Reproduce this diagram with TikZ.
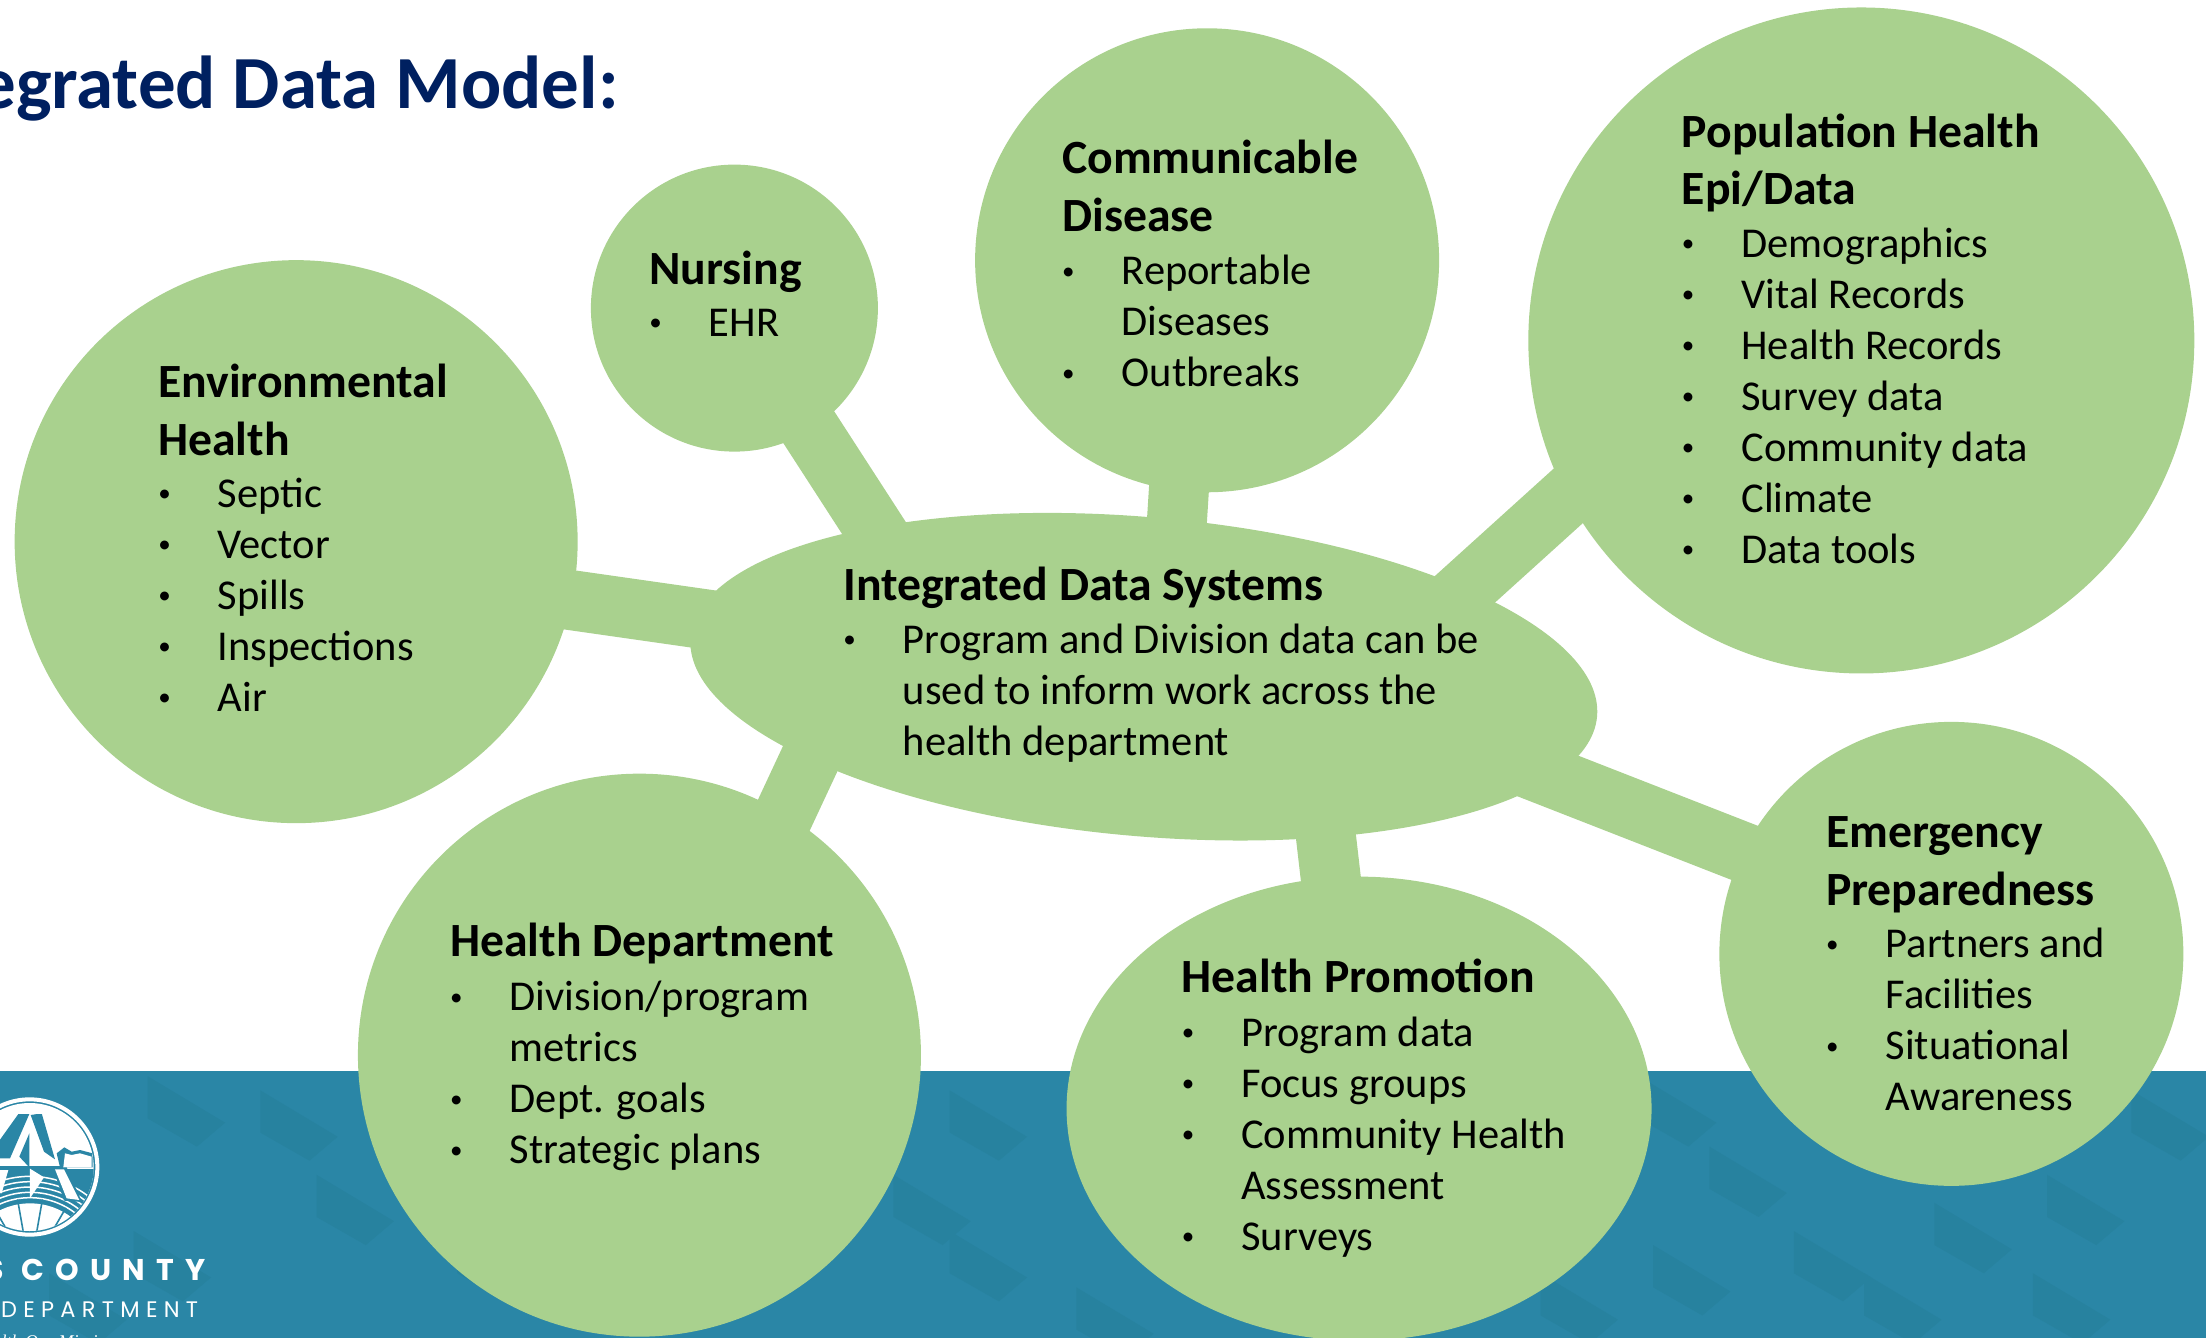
\documentclass[tikz,border=0pt]{standalone}
\usepackage{fontspec}
\setmainfont{Carlito}
\newfontfamily\logofontsp[LetterSpace=37]{Poppins}
\newfontfamily\logofontb[LetterSpace=28]{Poppins}
\newfontfamily\logoserif{Liberation Serif}
\usetikzlibrary{shapes.geometric}
\definecolor{leaf}{HTML}{A9D18E}
\definecolor{bandc}{HTML}{2A86A6}
\definecolor{bandd}{HTML}{27829F}
\definecolor{titlec}{HTML}{002060}
\newcommand{\hd}[1]{{\bfseries\fontsize{47.7}{51}\selectfont #1}}
\newcommand{\itm}[1]{\makebox[59.5pt][l]{\raisebox{5.3pt}{\fontsize{25}{25}\selectfont\textbullet}}#1}
\newcommand{\cnt}[1]{\makebox[59.5pt][l]{}#1}
\tikzset{
  bub/.style={circle,fill=leaf,draw=none,inner sep=0pt,minimum size=#1},
  ebub/.style={ellipse,fill=leaf,draw=none,inner sep=0pt},
  link/.style={draw=leaf,line width=60pt,shorten <=-14pt,shorten >=-14pt},
  txt/.style={anchor=north west,inner sep=0pt,outer sep=0pt,yshift=31.4pt,align=left,text=black,
     font=\fontsize{42.5}{51}\selectfont,execute at begin node={\rule{0pt}{38pt}}},
}
\begin{document}
\begin{tikzpicture}[x=1.40689pt,y=-1.40689pt]
\useasboundingbox (0,0) rectangle (1568,951);
\clip (0,0) rectangle (1568,951);
% band
\fill[bandc] (0,761) rectangle (1568,951);
\foreach \px/\py in {130/790,210/800,250/860,60/930,350/900,700/800,700/900,790/940,1190/790,1240/840,1300/900,1400/880,1480/860,1540/800,1120/930,1200/910,1350/930,1470/930,660/860,120/900}{
  \fill[bandd,shift={(\px,\py)}] (-25,-25)--(30,8)--(10,25)--(-25,5)--cycle;
}
% logo
\begin{scope}[x=0.33333pt,y=-0.33333pt,shift={(0pt,-1090pt)}]
  \draw[white,line width=4pt] (89,231) circle (203);
  \begin{scope}
    \clip (89,231) circle (192);
    \fill[white] (-110,30) rectangle (290,440);
    \fill[bandc] (-110,236) rectangle (290,440);
    \foreach \r in {222,238,254,270,286}{
      \draw[white,line width=1.5pt] (90,545) circle (\r);
    }
    \fill[white] (90,545) circle (205);
    \foreach \a in {20,40,60,80,100,120,140,160}{
      \draw[bandc,line width=1.6pt] (90,540) -- ++(\a:-215);
    }
    \fill[bandc] (-40,205)--(58,68)--(88,72)--(30,205)--cycle;
    \fill[bandc] (92,75)--(125,70)--(165,208)--(132,185)--cycle;
    \fill[bandc] (88,130)--(88,232)--(58,200)--cycle;
    \fill[bandc] (170,190)--(193,172)--(215,185)--(240,180)--(278,190)--(278,232)--(180,232)--cycle;
    \fill[white] (195,190)--(215,195)--(240,190)--(275,200)--(275,232)--(190,232)--cycle;
    \fill[bandc] (-110,228) rectangle (190,236);
    \fill[white] (53,64) rectangle (127,72);
    \fill[white] (90,236)--(132,262)--(90,325)--cycle;
    \fill[bandc] (158,232)--(200,232)--(246,336)--(192,332)--cycle;
    \fill[white] (165,238)--(192,238)--(238,330)--(200,325)--cycle;
    \fill[white] (-10,240)--(25,240)--(5,310)--(-30,300)--cycle;
  \end{scope}
\end{scope}
\node[anchor=base east,inner sep=0pt,text=white,font={\logofontsp\bfseries\fontsize{30}{30}\selectfont}] (county) at (146,910.5) {S COUNTY};
\node[anchor=base east,inner sep=0pt,text=white,font={\logofontb\fontsize{22.5}{23}\selectfont}] (dept) at (141,936.5) {DEPARTMENT};
\node[anchor=base west,inner sep=0pt,text=white,font={\logoserif\itshape\fontsize{18}{18}\selectfont}] (mission) at (1,957.5) {lth Our Mission};
% title
\node[anchor=base east,inner sep=0pt,text=titlec,font={\bfseries\fontsize{75}{80}\selectfont}] (title) at (440,77) {egrated Data Model:};
% shapes
\node[bub=563pt] (env) at (210.5,385) {};
\node[bub=287pt] (nur) at (522,219) {};
\node[bub=464pt] (com) at (858,185) {};
\node[bub=666pt] (pop) at (1323,242) {};
\node[bub=464pt] (eme) at (1387,678) {};
\node[ebub,minimum width=585pt,minimum height=464pt] (pro) at (966,788) {};
\node[bub=563pt] (hea) at (454.5,750) {};
\node[ebub,minimum width=910pt,minimum height=319pt,rotate=-5] (core) at (813,481) {};
% connector ends on the central shape
\coordinate (cEnv) at (500,440);
\coordinate (cNur) at (621,375);
\coordinate (cCom) at (836.5,371);
\coordinate (cPop) at (1040,420);
\coordinate (cEme) at (1086,546);
\coordinate (cPro) at (942.5,595);
\coordinate (cHea) at (576,539);
\draw[link] (env.-12) -- (cEnv);
\draw[link] (nur.-58.5) -- (cNur);
\draw[link] (com.-97) -- (cCom);
\draw[link] (pop.208.5) -- (cPop);
\draw[link] (eme.154.2) -- (cEme);
\draw[link] (pro.97.8) -- (cPro);
\draw[link] (hea.59) -- (cHea);
% texts
\node[txt] (tEnv) at (112.5,281) {\hd{Environmental}\\[6.7pt]\hd{Health}\\[1pt]\itm{Septic}\\\itm{Vector}\\\itm{Spills}\\\itm{Inspections}\\\itm{Air}};
\node[txt] (tNur) at (461.5,201) {\hd{Nursing}\\[0.4pt]\itm{EHR}};
\node[txt] (tCom) at (755,122) {\hd{Communicable}\\[6.7pt]\hd{Disease}\\[2.4pt]\itm{Reportable}\\\cnt{Diseases}\\\itm{Outbreaks}};
\node[txt] (tPop) at (1195.5,103) {\hd{Population Health}\\[6.7pt]\hd{Epi/Data}\\[1.4pt]\itm{Demographics}\\\itm{Vital Records}\\\itm{Health Records}\\\itm{Survey data}\\\itm{Community data}\\\itm{Climate}\\\itm{Data tools}};
\node[txt] (tCore) at (599.5,425) {\hd{Integrated Data Systems}\\[2pt]\itm{Program and Division data can be}\\\cnt{used to inform work across the}\\\cnt{health department}};
\node[txt] (tEme) at (1298,603) {\hd{Emergency}\\[6.7pt]\hd{Preparedness}\\[1pt]\itm{Partners and}\\\cnt{Facilities}\\\itm{Situational}\\\cnt{Awareness}};
\node[txt] (tPro) at (840,704) {\hd{Health Promotion}\\[2.4pt]\itm{Program data}\\\itm{Focus groups}\\\itm{Community Health}\\\cnt{Assessment}\\\itm{Surveys}};
\node[txt] (tHea) at (320,678.5) {\hd{Health Department}\\[3pt]\itm{Division/program}\\\cnt{metrics}\\\itm{Dept. goals}\\\itm{Strategic plans}};
\end{tikzpicture}
\end{document}
